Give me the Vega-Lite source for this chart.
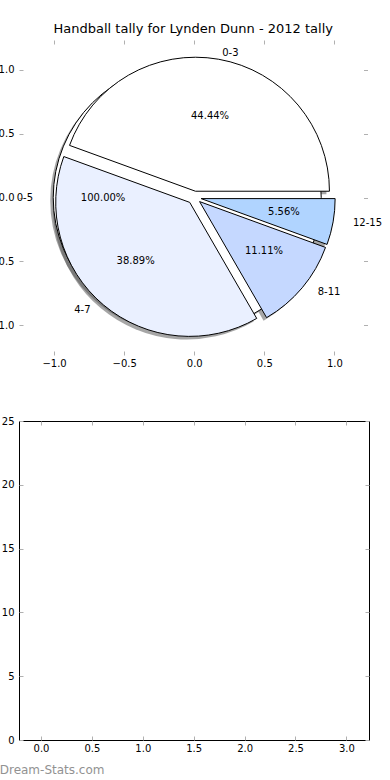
{
  "$schema": "https://vega.github.io/schema/vega-lite/v6.json",
  "padding": {"left": -11, "top": 22, "right": 0, "bottom": 0},
  "config": {
    "font": "DejaVu Sans",
    "axis": {"domain": false, "grid": false, "tickColor": "#b0b0b0", "tickSize": -4, "tickWidth": 1, "labelPadding": 9, "labelFontSize": 10, "labelColor": "#000000", "labelFont": "DejaVu Sans"},
    "axisX": {"labelPadding": 7},
    "text": {"font": "DejaVu Sans", "fontSize": 10, "color": "#000000"}
  },
  "title": {"text": "Dream-Stats.com", "orient": "bottom", "anchor": "start", "frame": "bounds", "color": "#929292", "fontSize": 12, "fontWeight": "normal", "font": "DejaVu Sans", "offset": 11, "dx": 10},
  "datasets": {
    "slices": [
      {"pie": "main", "range": "0-3", "count": 8, "rank": 1},
      {"pie": "main", "range": "4-7", "count": 7, "rank": 2},
      {"pie": "main", "range": "8-11", "count": 2, "rank": 3},
      {"pie": "main", "range": "12-15", "count": 1, "rank": 4},
      {"pie": "extra", "range": "0-5", "count": 1, "rank": 1}
    ]
  },
  "bounds": "flush",
  "spacing": 66,
  "vconcat": [
    {
      "title": {"text": "Handball tally for Lynden Dunn - 2012 tally", "fontSize": 13, "fontWeight": "normal", "color": "#000000", "offset": 4, "font": "DejaVu Sans"},
      "width": 348.5,
      "height": 315,
      "view": {"stroke": null},
      "data": {"name": "slices"},
      "transform": [
        {"joinaggregate": [{"op": "sum", "field": "count", "as": "total"}], "groupby": ["pie"]},
        {"window": [{"op": "sum", "field": "count", "as": "cum"}], "groupby": ["pie"], "sort": [{"field": "rank", "order": "ascending"}], "frame": [null, 0]},
        {"calculate": "2 * PI * (datum.cum - datum.count / 2) / datum.total", "as": "mid"},
        {"calculate": "0.05 * cos(datum.mid)", "as": "ex"},
        {"calculate": "0.05 * sin(datum.mid)", "as": "ey"},
        {"calculate": "1.15 * cos(datum.mid)", "as": "lx"},
        {"calculate": "1.15 * sin(datum.mid)", "as": "ly"},
        {"calculate": "0.65 * cos(datum.mid)", "as": "px"},
        {"calculate": "0.65 * sin(datum.mid)", "as": "py"},
        {"calculate": "datum.count / datum.total", "as": "share"}
      ],
      "layer": [
        {
          "transform": [{"filter": "datum.pie === 'main'"}],
          "mark": {"type": "arc", "radius": 134, "fill": "#4d4d4d", "fillOpacity": 0.5, "xOffset": -3, "yOffset": 3},
          "encoding": {
            "theta": {"field": "count", "type": "quantitative", "stack": true, "scale": {"range": [1.5708, -4.7124]}},
            "order": {"field": "rank"},
            "detail": {"field": "range"},
            "x": {"field": "ex", "type": "quantitative", "scale": {"domain": [-1.25, 1.236], "nice": false, "zero": false}, "axis": null},
            "y": {"field": "ey", "type": "quantitative", "scale": {"domain": [-1.235, 1.235], "nice": false, "zero": false}, "axis": null}
          }
        },
        {
          "transform": [{"filter": "datum.pie === 'extra'"}],
          "mark": {"type": "arc", "radius": 134, "fill": "#4d4d4d", "fillOpacity": 0.5, "xOffset": -3, "yOffset": 3},
          "encoding": {
            "theta": {"field": "count", "type": "quantitative", "stack": true, "scale": {"range": [1.5708, -4.7124]}},
            "order": {"field": "rank"},
            "detail": {"field": "range"},
            "x": {"field": "ex", "type": "quantitative", "scale": {"domain": [-1.25, 1.236], "nice": false, "zero": false}, "axis": null},
            "y": {"field": "ey", "type": "quantitative", "scale": {"domain": [-1.235, 1.235], "nice": false, "zero": false}, "axis": null}
          }
        },
        {
          "transform": [{"filter": "datum.pie === 'extra'"}],
          "mark": {"type": "arc", "radius": 134, "fill": "#ffffff", "stroke": "#000000", "strokeWidth": 1},
          "encoding": {
            "theta": {"field": "count", "type": "quantitative", "stack": true, "scale": {"range": [1.5708, -4.7124]}},
            "order": {"field": "rank"},
            "detail": {"field": "range"},
            "x": {"field": "ex", "type": "quantitative", "scale": {"domain": [-1.25, 1.236], "nice": false, "zero": false}, "axis": {"orient": "top", "labels": false, "values": [-1, -0.5, 0, 0.5, 1], "title": null}},
            "y": {"field": "ey", "type": "quantitative", "scale": {"domain": [-1.235, 1.235], "nice": false, "zero": false}, "axis": {"orient": "right", "labels": false, "values": [-1, -0.5, 0, 0.5, 1], "title": null}}
          }
        },
        {
          "transform": [{"filter": "datum.pie === 'main'"}],
          "mark": {"type": "arc", "radius": 134, "stroke": "#000000", "strokeWidth": 1},
          "encoding": {
            "theta": {"field": "count", "type": "quantitative", "stack": true, "scale": {"range": [1.5708, -4.7124]}},
            "order": {"field": "rank"},
            "color": {"field": "range", "type": "nominal", "scale": {"domain": ["0-3", "4-7", "8-11", "12-15"], "range": ["#ffffff", "#eaf0ff", "#c5d8ff", "#b0d4ff"]}, "legend": null},
            "x": {"field": "ex", "type": "quantitative", "scale": {"domain": [-1.25, 1.236], "nice": false, "zero": false}, "axis": {"orient": "bottom", "values": [-1, -0.5, 0, 0.5, 1], "format": ".1f", "title": null}},
            "y": {"field": "ey", "type": "quantitative", "scale": {"domain": [-1.235, 1.235], "nice": false, "zero": false}, "axis": {"orient": "left", "values": [-1, -0.5, 0, 0.5, 1], "format": ".1f", "title": null}}
          }
        },
        {
          "transform": [{"filter": "datum.lx > 0"}],
          "mark": {"type": "text", "align": "left", "baseline": "middle"},
          "encoding": {
            "text": {"field": "range"},
            "x": {"field": "lx", "type": "quantitative", "scale": {"domain": [-1.25, 1.236], "nice": false, "zero": false}, "axis": null},
            "y": {"field": "ly", "type": "quantitative", "scale": {"domain": [-1.235, 1.235], "nice": false, "zero": false}, "axis": null}
          }
        },
        {
          "transform": [{"filter": "datum.lx <= 0"}],
          "mark": {"type": "text", "align": "right", "baseline": "middle"},
          "encoding": {
            "text": {"field": "range"},
            "x": {"field": "lx", "type": "quantitative", "scale": {"domain": [-1.25, 1.236], "nice": false, "zero": false}, "axis": null},
            "y": {"field": "ly", "type": "quantitative", "scale": {"domain": [-1.235, 1.235], "nice": false, "zero": false}, "axis": null}
          }
        },
        {
          "mark": {"type": "text", "align": "center", "baseline": "middle"},
          "encoding": {
            "text": {"field": "share", "type": "quantitative", "format": ".2%"},
            "x": {"field": "px", "type": "quantitative", "scale": {"domain": [-1.25, 1.236], "nice": false, "zero": false}, "axis": null},
            "y": {"field": "py", "type": "quantitative", "scale": {"domain": [-1.235, 1.235], "nice": false, "zero": false}, "axis": null}
          }
        }
      ],
      "resolve": {"axis": {"x": "independent", "y": "independent"}, "scale": {"theta": "independent"}}
    },
    {
      "width": 350,
      "height": 319,
      "view": {"stroke": "#000000", "strokeWidth": 1},
      "data": {"values": []},
      "layer": [
        {
          "mark": "point",
          "encoding": {
            "x": {"field": "a", "type": "quantitative", "scale": {"domain": [-0.216, 3.222], "nice": false, "zero": false}, "axis": {"orient": "bottom", "values": [0, 0.5, 1, 1.5, 2, 2.5, 3], "format": ".1f", "title": null}},
            "y": {"field": "b", "type": "quantitative", "scale": {"domain": [0, 25], "nice": false}, "axis": {"orient": "left", "values": [0, 5, 10, 15, 20, 25], "format": "d", "title": null}}
          }
        },
        {
          "mark": "point",
          "encoding": {
            "x": {"field": "a", "type": "quantitative", "scale": {"domain": [-0.216, 3.222], "nice": false, "zero": false}, "axis": {"orient": "top", "labels": false, "values": [0, 0.5, 1, 1.5, 2, 2.5, 3], "title": null}},
            "y": {"field": "b", "type": "quantitative", "scale": {"domain": [0, 25], "nice": false}, "axis": {"orient": "right", "labels": false, "values": [0, 5, 10, 15, 20, 25], "title": null}}
          }
        }
      ],
      "resolve": {"axis": {"x": "independent", "y": "independent"}}
    }
  ]
}
